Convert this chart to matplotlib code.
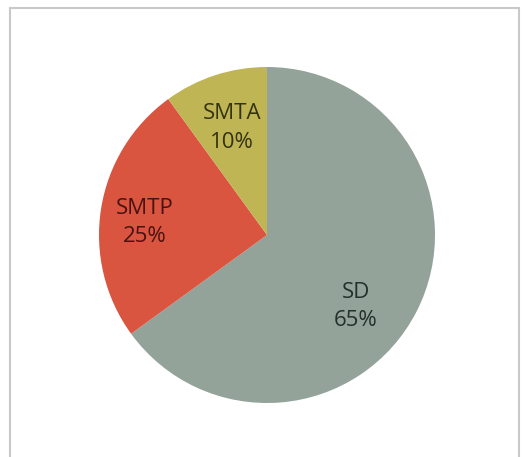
import numpy as np
import matplotlib.pyplot as plt
from matplotlib.patches import Rectangle

# data
labels = ['SD', 'SMTP', 'SMTA']
values = [65, 25, 10]
colors = ['#93a39a', '#d9553f', '#c0b554']
text_colors = ['#26302b', '#4a1210', '#33330f']
# label placement: fraction of radius, angle shift from wedge middle (deg)
label_r = [0.68, 0.73, 0.67]
label_shift = [-12, 3, 0]

W, H = 525, 457
fig = plt.figure(figsize=(W / 100, H / 100), dpi=100)

# chart frame
fig.patches.append(Rectangle((10 / W, -0.05), 509 / W, 1 - 8 / H + 0.05,
                             transform=fig.transFigure, fill=False,
                             edgecolor='#c9c9c9', linewidth=1.5))

cx, cy, r = 267, 235, 168
ax = fig.add_axes([(cx - r) / W, (H - cy - r) / H, 2 * r / W, 2 * r / H])
wedges, _ = ax.pie(values, colors=colors, startangle=90, counterclock=False,
                   radius=1.0, wedgeprops=dict(linewidth=0))
ax.set_xlim(-1, 1)
ax.set_ylim(-1, 1)
ax.set_aspect('equal')
ax.axis('off')

for w, lab, v, tc, lr, sh in zip(wedges, labels, values, text_colors, label_r, label_shift):
    mid = np.deg2rad((w.theta1 + w.theta2) / 2 + sh)
    ax.text(lr * np.cos(mid), lr * np.sin(mid), f"{lab}\n{v}%",
            ha='center', va='center', fontsize=16, color=tc, fontweight='medium',
            family=['Open Sans', 'DejaVu Sans'], linespacing=1.45)

fig.savefig('out.png', dpi=100)
